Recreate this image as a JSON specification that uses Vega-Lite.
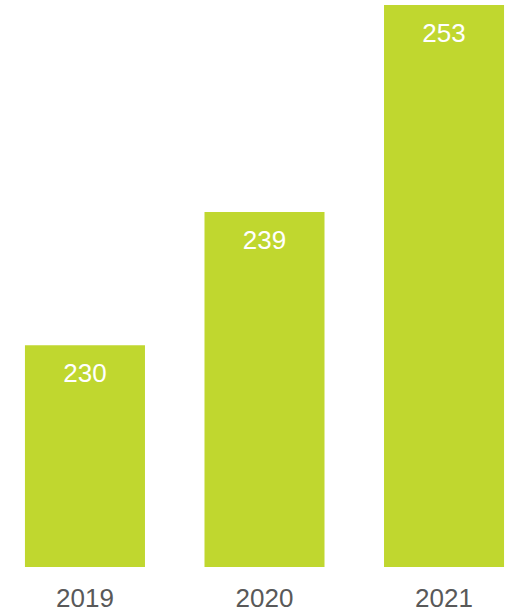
{
  "$schema": "https://vega.github.io/schema/vega-lite/v6.json",
  "autosize": "none",
  "padding": {"left": 0, "top": 5, "right": 0, "bottom": 44},
  "width": 529,
  "height": 562,
  "background": "white",
  "title": {"text": "Qualified New Applicants", "font": "Liberation Sans", "fontSize": 26, "fontWeight": "normal", "color": "#404040", "offset": 1, "baseline": "alphabetic", "anchor": "middle"},
  "data": {"values": [
    {"year": "2019", "value": 230},
    {"year": "2020", "value": 239},
    {"year": "2021", "value": 253}
  ]},
  "encoding": {
    "x": {"field": "year", "type": "nominal", "scale": {"paddingInner": 0.3315, "paddingOuter": 0.139},
      "axis": {"title": null, "labelAngle": 0, "domain": false, "ticks": false, "labelPadding": 18, "labelFont": "Liberation Sans", "labelFontSize": 26, "labelColor": "#595959"}},
    "y": {"field": "value", "type": "quantitative", "scale": {"domain": [215, 253], "zero": false, "nice": false}, "axis": null}
  },
  "layer": [
    {"mark": {"type": "bar", "color": "#c0d72f", "clip": true}},
    {"mark": {"type": "text", "color": "white", "font": "Liberation Sans", "fontSize": 26, "baseline": "middle", "dy": 29}, "encoding": {"text": {"field": "value", "type": "quantitative"}}}
  ],
  "config": {"view": {"stroke": null}}
}
